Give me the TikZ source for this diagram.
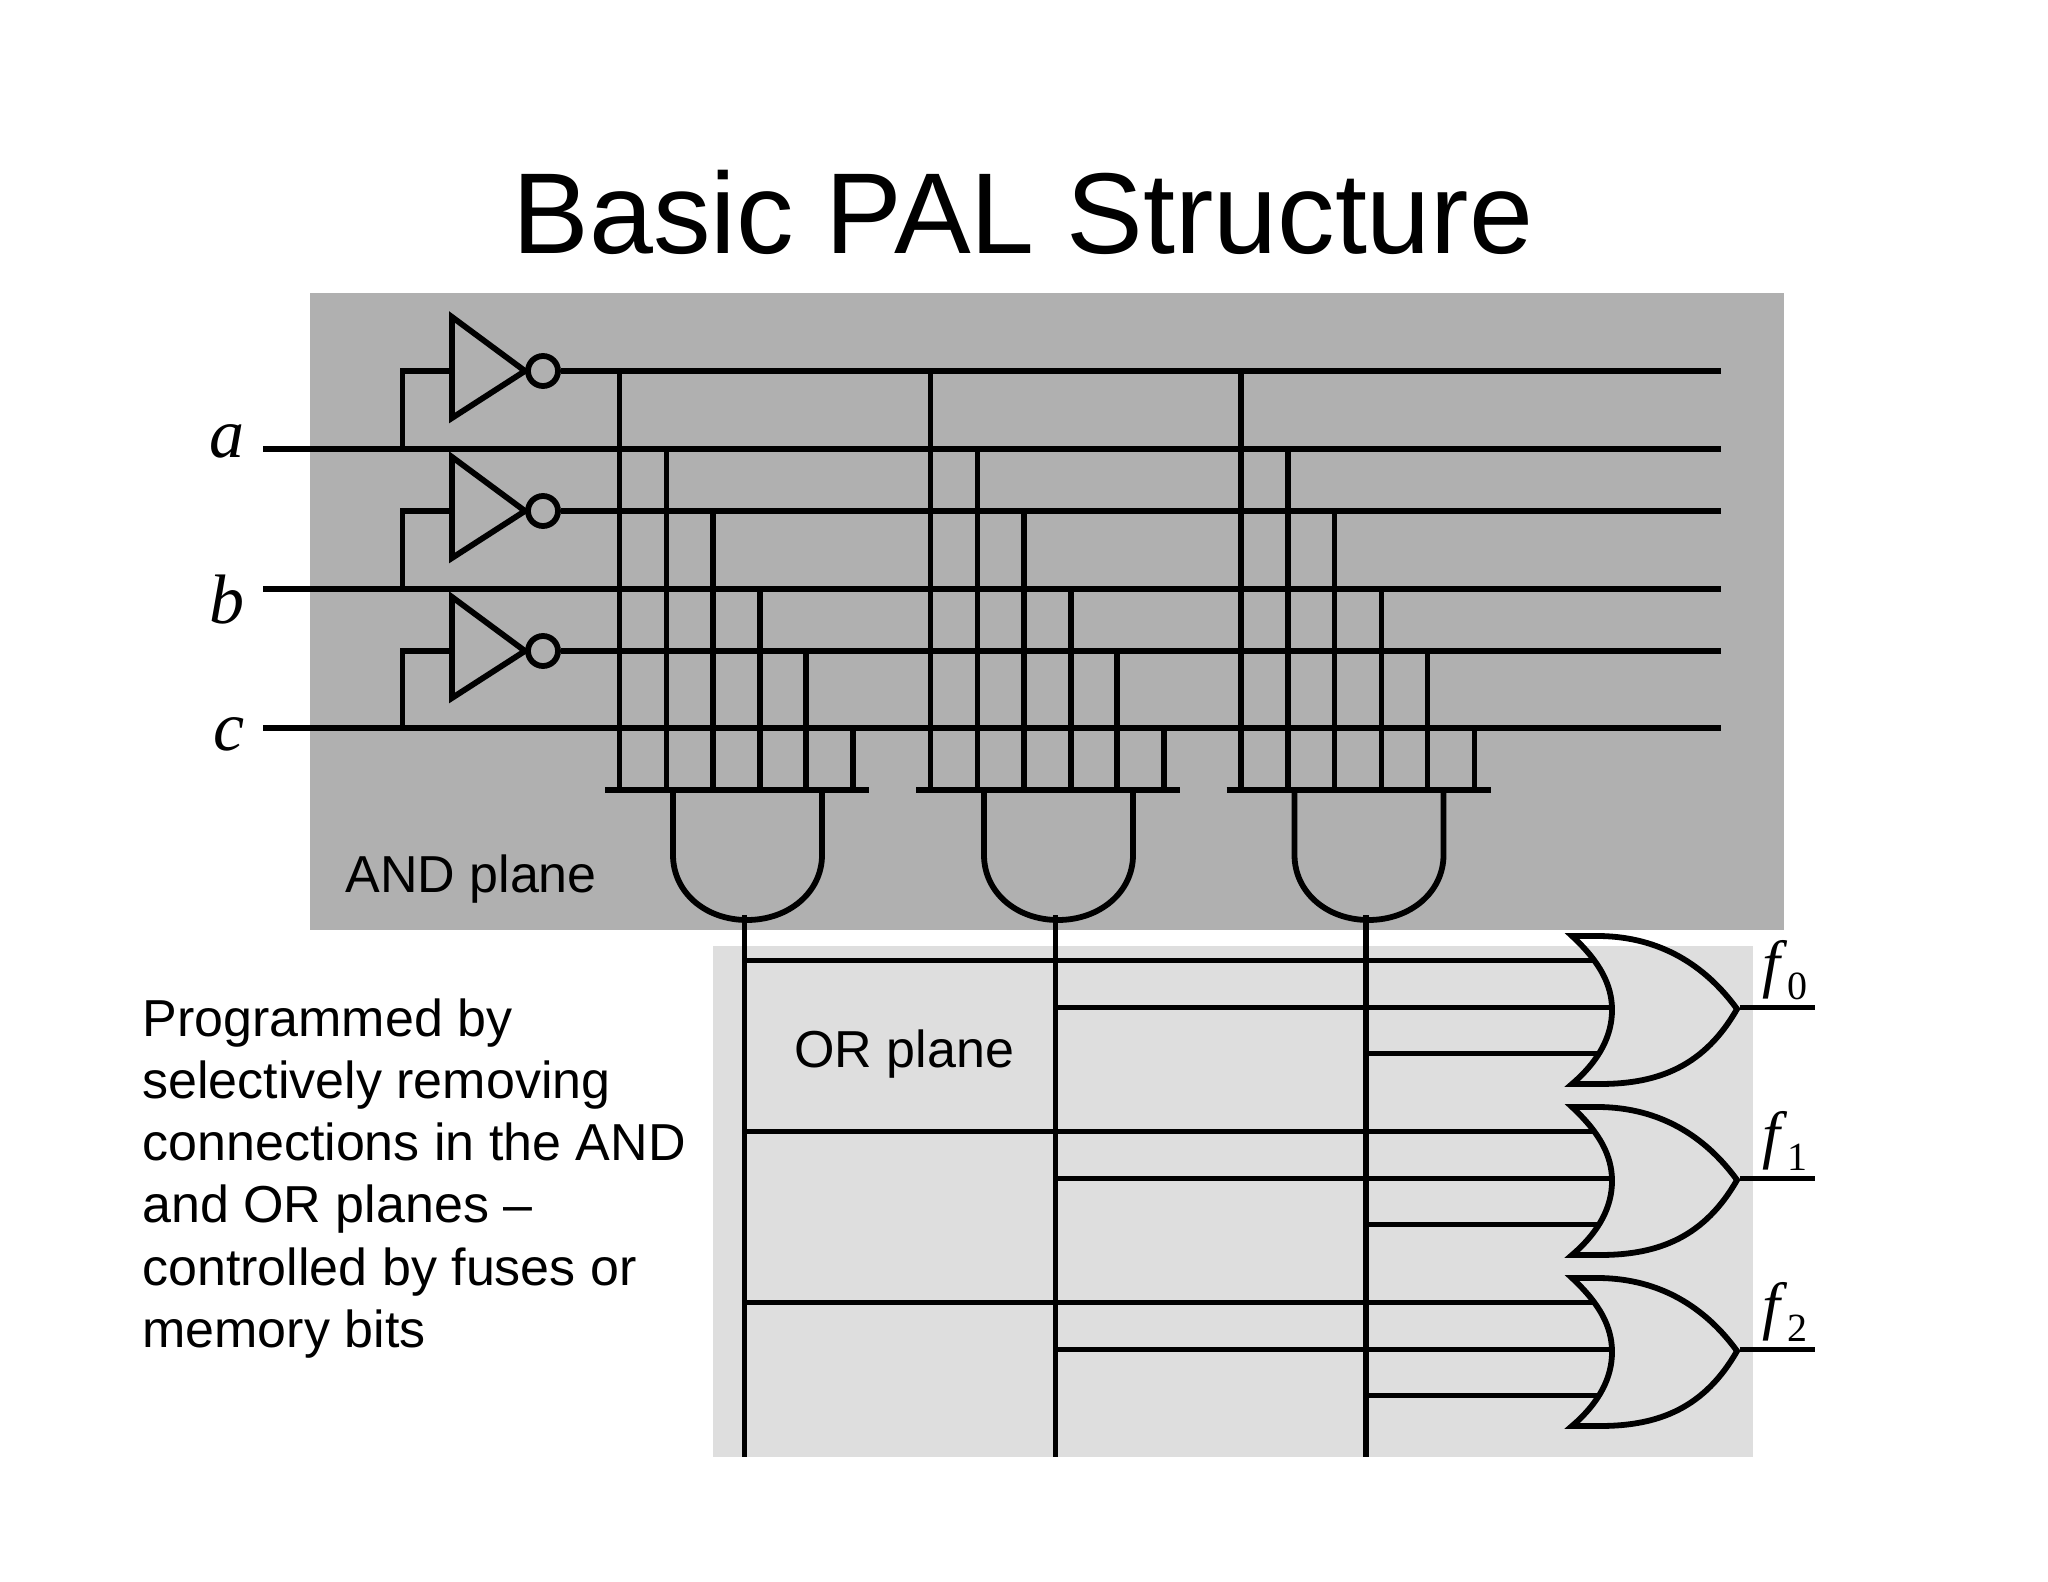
\documentclass[tikz,border=0pt]{standalone}
\usepackage{fontspec}
\setmainfont{Liberation Sans}
\newfontfamily\serifital[ItalicFont=Liberation Serif Italic]{Liberation Serif}
\definecolor{andgray}{gray}{0.69}
\definecolor{orgray}{gray}{0.87}
\tikzset{
  wire/.style={line width=2.9pt,line cap=butt,line join=miter},
  bubble/.style={circle,draw,line width=2.9pt,minimum size=15pt,inner sep=0pt},
  varlabel/.style={anchor=base east,font=\serifital\itshape\fontsize{35}{40}\selectfont},
  outlabel/.style={anchor=base west,inner sep=0pt,font=\serifital\fontsize{32}{38}\selectfont}
}
\newcommand{\outname}[1]{\textit{f}\raisebox{-7pt}{\fontsize{20}{24}\selectfont #1}}
\begin{document}
\begin{tikzpicture}[x=0.5pt,y=-0.5pt]
\useasboundingbox (0,0) rectangle (2048,1582);
\fill[andgray] (310,293) rectangle (1784,930);
\fill[orgray] (713,946) rectangle (1753,1457);

\node [anchor=base,inner sep=0pt,font=\fontsize{57.5}{70}\selectfont] (title) at (1023,254) {Basic PAL Structure};
\node [anchor=base west,inner sep=0pt,font=\fontsize{26}{31}\selectfont] (andplane) at (345,892) {AND plane};
\node [anchor=base west,inner sep=0pt,font=\fontsize{26}{31}\selectfont] (orplane) at (794,1067) {OR plane};
\node [anchor=north west,inner sep=0pt,align=left,font=\fontsize{26}{31.15}\selectfont] (note) at (142,998) {Programmed by\\selectively removing\\connections in the AND\\and OR planes --\\controlled by fuses or\\memory bits};

\foreach \n/\t/\b/\l in {a/371/449/458,b/511/589/623,c/651/728/750}{
  \coordinate (\n in) at (263,\b);
  \coordinate (\n end) at (1721,\b);
  \coordinate (\n tap) at (402.5,\b);
  \coordinate (\n inv) at (452,\t);
  \coordinate (\n bar) at (1721,\t);
  \node [bubble] (\n not) at (543,\t) {};
  \node [varlabel,inner sep=0pt] (\n label) at (245,\l) {\n};
  \draw [wire] (\n in) -- (\n end);
  \draw [wire] (\n not) -- (\n bar);
  \draw [wire] (\n tap) |- (\n inv);
  \draw [wire] (452,\t-54) -- (525,\t) -- (452,\t+47) -- cycle;
}

\foreach \g/\dx in {0/0,1/311,2/621.5}{
  \coordinate (barl\g) at (605+\dx,790);
  \coordinate (barr\g) at (869+\dx,790);
  \draw [wire] (barl\g) -- (barr\g);
  \foreach \k/\x/\y in {1/619.5/371,2/666.5/449,3/713/511,4/760/589,5/806/651,6/853/728}{
    \coordinate (tap\g\k) at (\x+\dx,\y-2.5);
    \coordinate (foot\g\k) at (\x+\dx,790);
    \draw [wire] (tap\g\k) -- (foot\g\k);
  }
  \draw [wire] (673+\dx,790) -- (673+\dx,855) .. controls (673+\dx,892) and (705+\dx,920) .. (747+\dx,920)
    .. controls (789+\dx,920) and (822+\dx,892) .. (822+\dx,855) -- (822+\dx,790);
  \coordinate (out\g) at (744.5+\dx,915);
  \coordinate (outend\g) at (744.5+\dx,1457);
  \draw [wire] (out\g) -- (outend\g);
}

\foreach \f/\dy in {0/0,1/171,2/342}{
  \draw [wire] (1572,936+\dy) -- (1600,936+\dy) .. controls (1660,937+\dy) and (1705,965+\dy) .. (1737,1009+\dy)
    .. controls (1705,1065+\dy) and (1660,1084+\dy) .. (1600,1084+\dy) -- (1572,1084+\dy)
    .. controls (1600,1060+\dy) and (1612,1035+\dy) .. (1612,1010+\dy)
    .. controls (1612,985+\dy) and (1600,962+\dy) .. (1572,936+\dy) -- cycle;
  \path (out0 |- 0,960.5+\dy) coordinate (p0\f);
  \path (out1 |- 0,1007.5+\dy) coordinate (p1\f);
  \path (out2 |- 0,1053.5+\dy) coordinate (p2\f);
  \coordinate (q0\f) at (1593,960.5+\dy);
  \coordinate (q1\f) at (1610,1007.5+\dy);
  \coordinate (q2\f) at (1600,1053.5+\dy);
  \draw [wire] (p0\f) -- (q0\f);
  \draw [wire] (p1\f) -- (q1\f);
  \draw [wire] (p2\f) -- (q2\f);
  \coordinate (gate\f) at (1740,1007.5+\dy);
  \coordinate (f\f end) at (1815,1007.5+\dy);
  \draw [wire] (gate\f) -- (f\f end);
  \node [outlabel] (f\f) at (1762,985+\dy) {\outname{\f}};
}
\end{tikzpicture}
\end{document}
